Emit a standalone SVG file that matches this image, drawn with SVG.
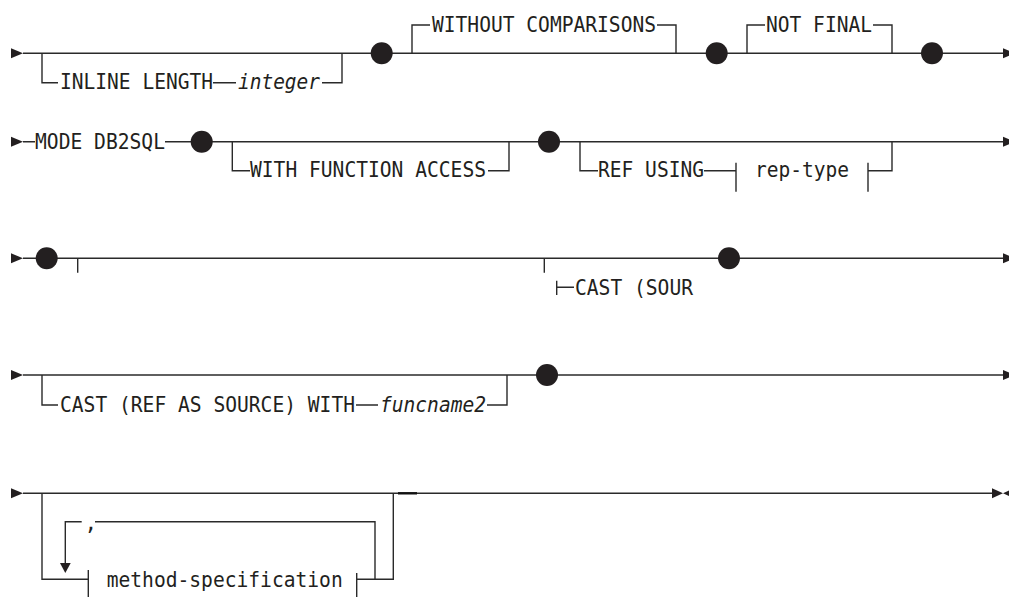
<svg xmlns="http://www.w3.org/2000/svg" width="1009" height="597" viewBox="0 0 1009 597">
<style>
.l{stroke:#2a2a2a;stroke-width:1.4;fill:none}
.t{font-family:"DejaVu Sans Mono","Liberation Mono",monospace;font-size:21px;fill:#231f20}
.i{font-style:italic}
.d{fill:#231f20}
.a{fill:#231f20}
</style>
<rect width="1009" height="597" fill="#fff"/>
<g id="connectors">
<!-- row 1 -->
<path class="l" d="M23 53.3H1004"/>
<path class="l" d="M42 53.3V82.7H58M213 82.7H236M322 82.7H342V53.3"/>
<path class="l" d="M412 53.3V25H430M657 25H676V53.3"/>
<path class="l" d="M747 53.3V25H765M873 25H892V53.3"/>
<!-- row 2 -->
<path class="l" d="M23 141.7H35M165 141.7H1004"/>
<path class="l" d="M232.3 141.7V170.7H250M488 170.7H509V141.7"/>
<path class="l" d="M580 141.7V170.7H598M704 170.7H736M736 162.7V191.7M868 162.7V191.7M868 170.7H892V141.7"/>
<!-- row 3 -->
<path class="l" d="M23 258.3H1004"/>
<path class="l" d="M77.7 258.3V272.7M544.3 258.3V272.7"/>
<path class="l" d="M556.7 280.7V295M556.7 287.3H574"/>
<!-- row 4 -->
<path class="l" d="M23 375H1004"/>
<path class="l" d="M42 375V405H58M356 405H378M487 405H507V375"/>
<!-- row 5 -->
<path class="l" d="M23 493.3H993"/>
<path class="l" d="M42 493.3V579.3H88.3M88.3 570V597"/>
<path class="l" d="M65.3 565V521.7H81.7M95 521.7H375V579.3"/>
<path class="l" d="M356.7 573V597M356.7 579.3H393.3V493.3"/>
<path stroke="#111" stroke-width="2.4" d="M398 493.3H417"/>
</g>
<g id="arrows">
<path class="a" d="M11 48.3L23 53.3L11 58.3Z"/>
<path class="a" d="M1003 48.3L1015 53.3L1003 58.3Z"/>
<path class="a" d="M11 136.7L23 141.7L11 146.7Z"/>
<path class="a" d="M1003 136.7L1015 141.7L1003 146.7Z"/>
<path class="a" d="M11 253.3L23 258.3L11 263.3Z"/>
<path class="a" d="M1003 253.3L1015 258.3L1003 263.3Z"/>
<path class="a" d="M11 370L23 375L11 380Z"/>
<path class="a" d="M1003 370L1015 375L1003 380Z"/>
<path class="a" d="M11 488.3L23 493.3L11 498.3Z"/>
<path class="a" d="M992 488.3L1003 493.3L992 498.3Z"/>
<path class="a" d="M1014 488.3L1003 493.3L1014 498.3Z"/>
<path class="a" d="M60 563L70.7 563L65.3 573Z"/>
</g>
<g id="dot1"><circle class="d" cx="381.7" cy="53.3" r="11"/></g>
<g id="dot2"><circle class="d" cx="716.7" cy="53.3" r="11"/></g>
<g id="dot3"><circle class="d" cx="932" cy="53.3" r="11"/></g>
<g id="dot4"><circle class="d" cx="201.7" cy="141.7" r="11"/></g>
<g id="dot5"><circle class="d" cx="549" cy="141.7" r="11"/></g>
<g id="dot6"><circle class="d" cx="46.7" cy="258.3" r="11"/></g>
<g id="dot7"><circle class="d" cx="729" cy="258.3" r="11"/></g>
<g id="dot8"><circle class="d" cx="547" cy="375" r="11"/></g>
<g id="inline-length"><text class="t" x="60" y="89" textLength="153" lengthAdjust="spacingAndGlyphs">INLINE LENGTH</text></g>
<g id="integer"><text class="t i" x="238" y="89" textLength="82" lengthAdjust="spacingAndGlyphs">integer</text></g>
<g id="without-comparisons"><text class="t" x="432" y="31.5" textLength="224" lengthAdjust="spacingAndGlyphs">WITHOUT COMPARISONS</text></g>
<g id="not-final"><text class="t" x="766" y="31.5" textLength="106" lengthAdjust="spacingAndGlyphs">NOT FINAL</text></g>
<g id="mode-db2sql"><text class="t" x="35" y="148.5" textLength="130" lengthAdjust="spacingAndGlyphs">MODE DB2SQL</text></g>
<g id="with-function-access"><text class="t" x="250" y="177" textLength="236" lengthAdjust="spacingAndGlyphs">WITH FUNCTION ACCESS</text></g>
<g id="ref-using"><text class="t" x="598" y="177" textLength="106" lengthAdjust="spacingAndGlyphs">REF USING</text></g>
<g id="rep-type"><text class="t" x="755" y="177" textLength="94" lengthAdjust="spacingAndGlyphs">rep-type</text></g>
<g id="cast-sour"><text class="t" x="575" y="295" textLength="118" lengthAdjust="spacingAndGlyphs">CAST (SOUR</text></g>
<g id="cast-ref"><text class="t" x="60" y="411.5" textLength="295" lengthAdjust="spacingAndGlyphs">CAST (REF AS SOURCE) WITH</text></g>
<g id="funcname2"><text class="t i" x="380" y="411.5" textLength="106" lengthAdjust="spacingAndGlyphs">funcname2</text></g>
<g id="comma"><text class="t" x="84.5" y="530">,</text></g>
<g id="method-specification"><text class="t" x="106.7" y="586.5" textLength="236" lengthAdjust="spacingAndGlyphs">method-specification</text></g>
</svg>
